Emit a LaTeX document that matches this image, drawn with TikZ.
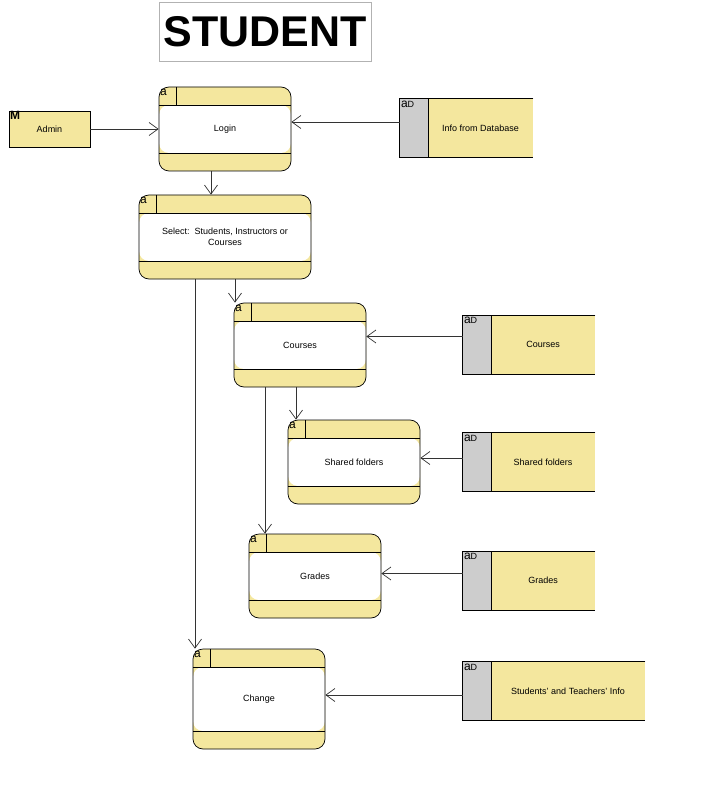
\documentclass[tikz,border=0pt]{standalone}
\usepackage{fontspec}
\setmainfont{Liberation Sans}
\usepackage{tikz}
\usetikzlibrary{positioning,arrows.meta}

\definecolor{dfdyellow}{HTML}{F4E79E}
\definecolor{dfdgrey}{HTML}{CDCDCD}

\begin{document}
\begin{tikzpicture}[
  x=1pt, y=-1pt,
  >={Straight Barb[length=9pt, width=13pt]},
  line width=0.7pt,
  proc/.style={draw, rounded corners=10pt, fill=dfdyellow,
               minimum width=132pt, minimum height=84pt,
               font=\fontsize{9}{11}\selectfont, align=center,
               label={[anchor=north west, inner xsep=1pt, inner ysep=2pt,
                       font=\fontsize{12}{12}\selectfont]north west:a},
               path picture={
                 \fill[white] ([yshift=-18pt]path picture bounding box.north west)
                   rectangle ([yshift=18pt]path picture bounding box.south east);
                 \draw ([yshift=-18pt]path picture bounding box.north west)
                   -- ([yshift=-18pt]path picture bounding box.north east);
                 \draw ([yshift=18pt]path picture bounding box.south west)
                   -- ([yshift=18pt]path picture bounding box.south east);
                 \draw ([xshift=17pt]path picture bounding box.north west)
                   -- ([xshift=17pt, yshift=-18pt]path picture bounding box.north west);
               }},
  store/.style={fill=dfdyellow, minimum height=58pt, inner sep=0pt,
                label={[anchor=north west, inner xsep=1pt, inner ysep=2pt]north west:%
                  {\fontsize{12}{12}\selectfont a\fontsize{9}{9}\selectfont D}},
                path picture={
                  \fill[dfdgrey] (path picture bounding box.north west)
                    rectangle ([xshift=28pt]path picture bounding box.south west);
                  \draw ([xshift=28pt]path picture bounding box.north west)
                    -- ([xshift=28pt]path picture bounding box.south west);
                }},
  storetext/.style={label={[xshift=14pt, font=\fontsize{9}{11}\selectfont]center:#1}},
  entity/.style={draw, fill=dfdyellow, minimum width=81pt, minimum height=36pt,
                 font=\fontsize{9}{11}\selectfont},
  flow/.style={->, black!80}
]
  \useasboundingbox (0,0) rectangle (719,791);

  % title
  \node[draw=black!30, line width=0.8pt, minimum width=212pt, minimum height=59pt,
        font=\fontsize{43}{43}\selectfont\bfseries] (title) at (265,31.5) {STUDENT};

  % external entity
  \node[entity] (admin) at (49.5,129) {Admin};
  \node[anchor=north west, inner xsep=1pt, inner ysep=0pt,
        font=\fontsize{12}{12}\selectfont\bfseries]
    (adminm) at (admin.north west) {M};

  % processes
  \node[proc] (login) at (225,129) {Login};
  \node[proc, minimum width=172pt] (select) at (225,237)
    {Select:\ \ Students, Instructors or\\Courses};
  \node[proc] (courses) at (300,345) {Courses};
  \node[proc] (shared) at (354,462) {Shared folders};
  \node[proc] (grades) at (315,576) {Grades};
  \node[proc, minimum height=100pt] (change) at (259,699) {Change};

  % data stores
  \node[store, minimum width=133pt, storetext={Info from Database}] (infodb) at (466.5,128) {};
  \node[store, minimum width=132pt, storetext={Courses}] (scourses) at (529,344.5) {};
  \node[store, minimum width=132pt, storetext={Shared folders}] (sshared) at (529,462) {};
  \node[store, minimum width=132pt, storetext={Grades}] (sgrades) at (529,580.5) {};
  \node[store, minimum width=182pt, storetext={Students' and Teachers' Info}] (sinfo) at (554,691) {};
  \foreach \s in {infodb,scourses,sshared,sgrades,sinfo}
    \draw (\s.north east) -- (\s.north west) -- (\s.south west) -- (\s.south east);

  % data flows
  \draw[flow] (admin.east) -- (login.west);
  \draw[flow] ([yshift=6pt]infodb.west) -- ([yshift=6pt]infodb.west -| login.east);
  \draw[flow] ([xshift=-14pt]login.south) -- ([xshift=-14pt]login.south |- select.north);
  \draw[flow] ([xshift=10pt]select.south) -- ([xshift=10pt]select.south |- courses.north);
  \draw[flow] ([xshift=-30pt]select.south) -- ([xshift=-30pt]select.south |- change.north);
  \draw[flow] ([xshift=-4pt]courses.south) -- ([xshift=-4pt]courses.south |- shared.north);
  \draw[flow] ([xshift=-35pt]courses.south) -- ([xshift=-35pt]courses.south |- grades.north);
  \draw[flow] ([yshift=8pt]scourses.west) -- ([yshift=8pt]scourses.west -| courses.east);
  \draw[flow] ([yshift=4pt]sshared.west) -- ([yshift=4pt]sshared.west -| shared.east);
  \draw[flow] ([yshift=7pt]sgrades.west) -- ([yshift=7pt]sgrades.west -| grades.east);
  \draw[flow] ([yshift=-4pt]sinfo.west) -- ([yshift=-4pt]sinfo.west -| change.east);
\end{tikzpicture}
\end{document}
